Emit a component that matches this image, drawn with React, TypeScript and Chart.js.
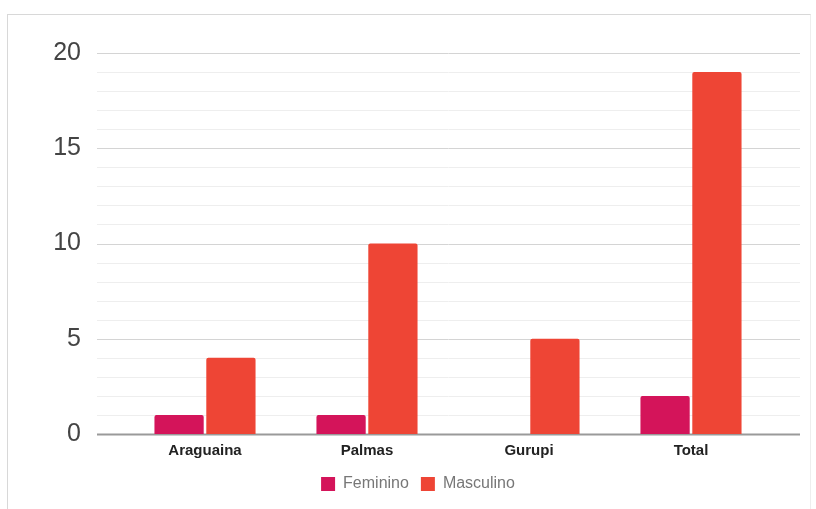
import React, { useEffect, useRef } from "react";
import { Chart, registerables } from "chart.js";

Chart.register(...registerables);

const categories = ["Araguaina", "Palmas", "Gurupi", "Total"];
const feminino = [1, 1, 0, 2];
const masculino = [4, 10, 5, 19];
const seriesNames = ["Feminino", "Masculino"];
const yTickMax = 20;
const yTickStep = 5;

const FONT = "'Liberation Sans', Arial, sans-serif";

const gridPlugin = {
  id: "wideGrid",
  afterLayout(chart: any) {
    if (chart.legend) {
      chart.legend.left += 22;
      chart.legend.right += 22;
    }
  },
  beforeDatasetsDraw(chart: any) {
    const y = chart.scales.y;
    const ctx = chart.ctx;
    const x0 = 97;
    const x1 = 800;
    ctx.save();
    for (let v = 0; v <= yTickMax; v += 1) {
      const py = Math.round(y.getPixelForValue(v)) + 0.5;
      let color = "#eeeeee";
      let lw = 1;
      if (v === 0) {
        color = "#9a9a9a";
        lw = 2;
      } else if (v % yTickStep === 0) {
        color = "#d4d4d4";
      }
      ctx.strokeStyle = color;
      ctx.lineWidth = lw;
      ctx.beginPath();
      ctx.moveTo(x0, py);
      ctx.lineTo(x1, py);
      ctx.stroke();
    }
    ctx.restore();
  },
};

export default function App() {
  const ref = useRef<HTMLCanvasElement | null>(null);

  useEffect(() => {
    if (!ref.current) return;
    const chart = new Chart(ref.current, {
      type: "bar",
      data: {
        labels: categories,
        datasets: [
          {
            label: seriesNames[0],
            data: feminino,
            backgroundColor: "#d4145a",
            borderRadius: 2,
            borderSkipped: "bottom",
          },
          {
            label: seriesNames[1],
            data: masculino,
            backgroundColor: "#ee4535",
            borderRadius: 2,
            borderSkipped: "bottom",
          },
        ],
      },
      options: {
        animation: false,
        responsive: false,
        devicePixelRatio: 1,
        datasets: {
          bar: {
            categoryPercentage: 0.64,
            barPercentage: 0.95,
          },
        },
        layout: {
          padding: { top: 53, left: 20, right: 44, bottom: 7 },
        },
        plugins: {
          tooltip: { enabled: false },
          legend: {
            position: "bottom",
            labels: {
              boxWidth: 14,
              boxHeight: 14,
              padding: 12,
              color: "#777777",
              font: { family: FONT, size: 16 },
            },
          },
        },
        scales: {
          x: {
            grid: { display: false, drawTicks: false },
            border: { display: false },
            ticks: {
              color: "#222222",
              padding: 8,
              font: { family: FONT, size: 15, weight: "bold" },
              maxRotation: 0,
            },
            afterFit(scale: any) {
              scale.height = 30;
            },
          },
          y: {
            min: 0,
            max: yTickMax,
            grid: { display: false, drawTicks: false },
            border: { display: false },
            ticks: {
              stepSize: yTickStep,
              color: "#444444",
              padding: 43,
              font: { family: FONT, size: 25 },
            },
            afterFit(scale: any) {
              scale.width = 104;
              scale.paddingTop = 0;
              scale.paddingBottom = 0;
            },
          },
        },
      },
      plugins: [gridPlugin],
    } as any);
    return () => chart.destroy();
  }, []);

  return (
    <div style={{ position: "fixed", left: 0, top: 0, width: 816, height: 509, background: "#fff" }}>
      <div
        style={{
          position: "absolute",
          left: 7,
          top: 14,
          width: 802,
          height: 520,
          borderTop: "1px solid #d8d8d8",
          borderLeft: "1px solid #d8d8d8",
          borderRight: "1px solid #eeeeee",
        }}
      />
      <canvas ref={ref} width={816} height={509} style={{ position: "absolute", left: 0, top: 0 }} />
    </div>
  );
}
